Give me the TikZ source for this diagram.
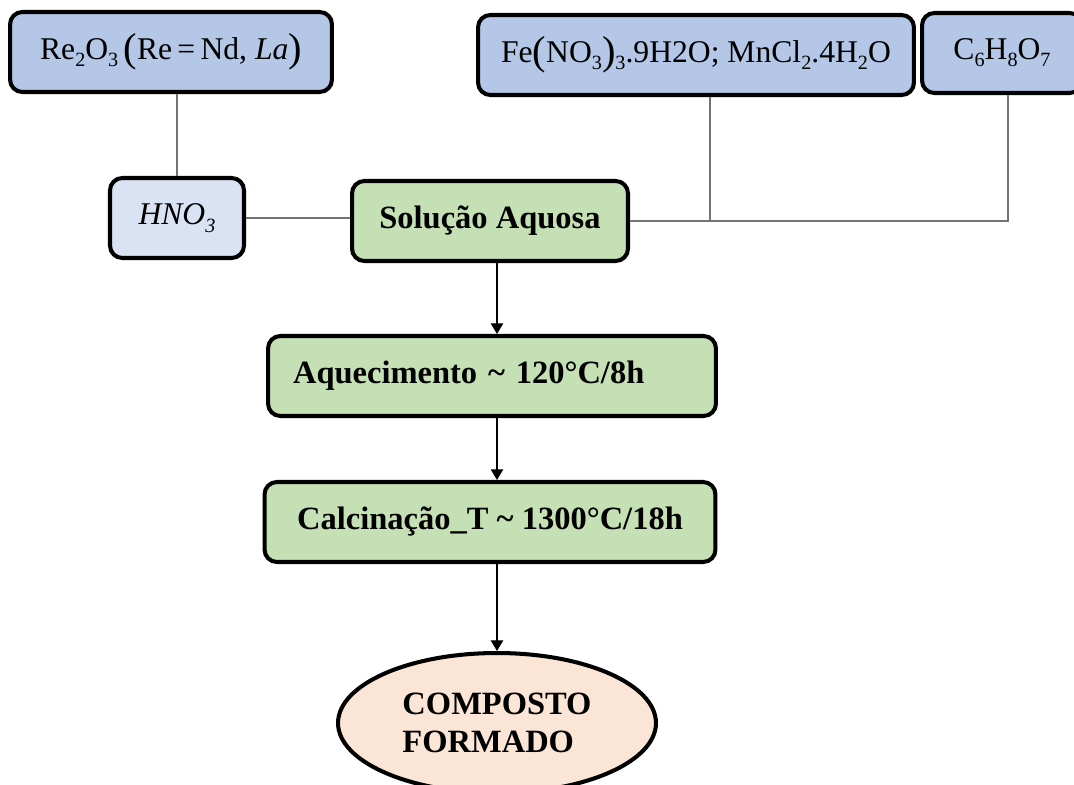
\documentclass[tikz,border=0pt]{standalone}
\usepackage{fontspec}
\setmainfont{Liberation Serif}
\usetikzlibrary{arrows.meta,shapes.geometric}

\definecolor{reagblue}{HTML}{B4C7E7}
\definecolor{acidblue}{HTML}{DAE3F3}
\definecolor{procgreen}{HTML}{C5E0B4}
\definecolor{prodpeach}{HTML}{FBE5D6}

\newcommand{\bigpar}[1]{{\fontsize{23pt}{23pt}\selectfont\raisebox{-1.5pt}{#1}}}
\newcommand{\chsub}[1]{\raisebox{-0.5ex}{\fontsize{11.5pt}{11.5pt}\selectfont #1}}

\begin{document}
\begin{tikzpicture}[
    x=0.02cm, y=-0.02cm,
    reagent/.style={rectangle, draw, line width=2.3pt, rounded corners=7pt,
                    fill=reagblue, minimum height=1.6cm, inner sep=2pt,
                    font=\fontsize{18pt}{21pt}\selectfont},
    acid/.style={reagent, fill=acidblue},
    process/.style={rectangle, draw, line width=2.3pt, rounded corners=7pt,
                    fill=procgreen, minimum height=1.6cm, inner sep=2pt,
                    font=\fontsize{18.5pt}{21pt}\selectfont\bfseries},
    product/.style={ellipse, draw, line width=2.3pt, fill=prodpeach,
                    minimum width=6.36cm, minimum height=2.8cm, align=left,
                    font=\fontsize{18.5pt}{22pt}\selectfont\bfseries},
    link/.style={draw=black!55, line width=0.8pt},
    flow/.style={-{Triangle[length=6pt, width=7pt]}, line width=0.6pt},
]
\useasboundingbox (0,0) rectangle (1074,784);

% Reagents
\node[reagent, minimum width=6.44cm] (re) at (171,52)
    {Re\chsub{2}O\chsub{3}\,\bigpar{(}Re\,=\,Nd, \textit{La}\bigpar{)}};
\node[reagent, minimum width=8.72cm] (fe) at (696,55)
    {Fe\bigpar{(}NO\chsub{3}\bigpar{)}\chsub{3}.9H2O; MnCl\chsub{2}.4H\chsub{2}O};
\node[reagent, minimum width=3.2cm] (c6) at (1002,53)
    {C\chsub{6}H\chsub{8}O\chsub{7}};
\node[acid, minimum width=2.68cm] (hno) at (177,218) {\textit{HNO\chsub{3}}};

% Process steps
\node[process, minimum width=5.52cm] (sol) at (490,221) {Solução Aquosa};
\node[process, text width=7.96cm, inner xsep=0.5cm, align=left] (aq) at (492,376)
    {Aquecimento \textasciitilde\ 120°C/8h};
\node[process, minimum width=9.02cm] (calc) at (490,522)
    {Calcinação\_T \textasciitilde\ 1300°C/18h};
\node[product] (ell) at (497,723) {COMPOSTO\\FORMADO};

% Connectors
\draw[link] (hno.north |- re.south) -- (hno.north);
\draw[link] (hno.east) -- (hno.east -| sol.west);
\draw[link] ([xshift=0.28cm]fe.south) |- (sol.east);
\draw[link] ([xshift=0.12cm]c6.south) |- (sol.east);

% Flow arrows
\draw[flow] (sol.south -| ell.north) -- (aq.north -| ell.north);
\draw[flow] (aq.south -| ell.north) -- (calc.north -| ell.north);
\draw[flow] (calc.south -| ell.north) -- (ell.north);
\end{tikzpicture}
\end{document}
